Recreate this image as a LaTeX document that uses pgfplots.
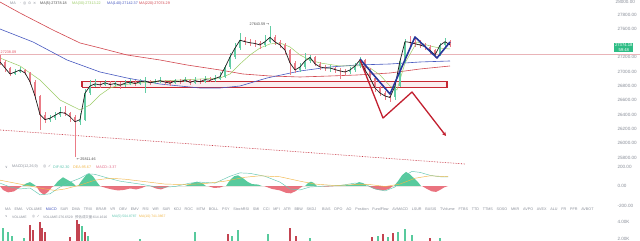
\documentclass[border=0pt]{standalone}
\usepackage{pgfplots}
\pgfplotsset{compat=1.18}
\usepackage{pgfplotstable}
\usepackage{fontspec}
\setmainfont{Liberation Sans}
\newfontfamily\cjk{Noto Sans CJK SC}
\newfontfamily\sym{DejaVu Sans}
\usetikzlibrary{arrows.meta}

\definecolor{upc}{HTML}{2EBD85}
\definecolor{dnc}{HTML}{E5505F}
\definecolor{ma5}{HTML}{1E1E1E}
\definecolor{ma30}{HTML}{9CCC65}
\definecolor{ma140}{HTML}{4759C0}
\definecolor{ma220}{HTML}{D2474F}
\definecolor{boxred}{HTML}{C62833}
\definecolor{navy}{HTML}{27379A}
\definecolor{arrowred}{HTML}{C21F2F}
\definecolor{lbl}{HTML}{8A8F99}
\definecolor{difc}{HTML}{63C7B2}
\definecolor{deac}{HTML}{F2B84B}
\definecolor{macdc}{HTML}{E36C8A}
\definecolor{refline}{HTML}{E9B4B8}

% hourly candles: x position, open, close, high, low
\pgfplotstableread{
x o c h l
0 27190 27136 27230 27100
5 27136 27052 27160 26990
10 27052 26968 27070 26940
15 26968 26996 27040 26950
20 26996 27024 27060 26980
25 27024 26982 27040 26950
30 26982 26860 26990 26820
35 26860 26660 26880 26600
40 26660 26400 26680 26190
45 26400 26330 26430 26280
50 26330 26350 26400 26300
55 26350 26390 26430 26320
60 26390 26430 26500 26370
65 26430 26420 26520 26380
70 26420 26370 26440 26300
75 26370 26300 26390 25811
80 26300 26330 26420 26250
85 26330 26700 26760 26310
90 26700 26800 26880 26680
95 26800 26830 26900 26790
100 26830 26815 26860 26770
105 26815 26845 26880 26800
110 26845 26820 26870 26790
115 26820 26835 26870 26800
120 26835 26810 26850 26760
125 26810 26840 26880 26790
130 26840 26855 26900 26820
135 26855 26835 26880 26800
140 26835 26860 26900 26820
145 26860 26870 26920 26700
150 26870 26845 26890 26810
155 26845 26860 26900 26830
160 26860 26875 26920 26840
165 26875 26855 26890 26820
170 26855 26840 26880 26800
175 26840 26870 26900 26830
180 26870 26860 26900 26830
185 26860 26885 26930 26850
190 26885 26850 26900 26810
195 26850 26875 26920 26830
200 26875 26860 26900 26830
205 26860 26890 26940 26840
210 26890 26880 26920 26850
215 26880 26905 26950 26860
220 26905 26930 26990 26880
225 26930 27060 27100 26910
230 27060 27206 27260 27040
235 27206 27330 27400 27180
240 27330 27440 27540 27300
245 27440 27420 27480 27380
250 27420 27405 27460 27360
255 27405 27395 27450 27340
260 27395 27374 27430 27320
265 27374 27420 27520 27350
270 27420 27480 27644 27400
275 27480 27416 27520 27380
280 27416 27374 27450 27330
285 27374 27300 27400 27250
290 27300 27122 27320 26950
295 27122 27024 27150 26980
300 27024 27066 27120 27000
305 27066 27150 27260 27040
310 27150 27200 27240 27120
315 27200 27110 27220 27080
320 27110 27066 27130 27030
325 27066 27052 27100 27010
330 27052 27052 27090 27000
335 27052 27030 27070 26980
340 27030 27010 27050 26900
345 27010 26996 27040 26950
350 26996 27024 27060 26970
355 27024 27080 27120 27000
360 27080 27164 27200 27050
365 27164 27024 27180 26990
370 27024 26912 27050 26880
375 26912 26772 26930 26720
380 26772 26702 26800 26660
385 26702 26660 26730 26600
390 26660 26640 26700 26580
395 26640 26800 26830 26600
400 26800 27150 27180 26780
405 27150 27420 27460 27120
410 27420 27410 27500 27360
415 27410 27390 27470 27340
420 27390 27374 27440 27330
425 27374 27350 27400 27300
430 27350 27300 27380 27250
435 27300 27235 27320 27190
440 27235 27370 27400 27220
445 27370 27420 27470 27350
450 27420 27374 27440 27340
}\candles

\newcommand\txt{\fontsize{3.7}{4}\selectfont}
\newcommand\stxt{\fontsize{3.4}{4}\selectfont}
\newcommand\g{\hspace{3.8pt}}

\pgfplotsset{
  panel/.style={
    scale only axis, width=612pt, xmin=0, xmax=612,
    axis line style={draw=none}, tick style={draw=none},
    xtick=\empty, yticklabel pos=right, clip=false,
    scaled y ticks=false,
    yticklabel style={font=\fontsize{4.6}{5}\selectfont, text=lbl, xshift=2pt,
      /pgf/number format/fixed, /pgf/number format/fixed zerofill,
      /pgf/number format/precision=2, /pgf/number format/1000 sep={},
      /pgf/number format/assume math mode=true},
  },
}

\begin{document}
\begin{tikzpicture}
\useasboundingbox (0pt,0pt) rectangle (640pt,-241pt);
\fill[white] (0pt,0pt) rectangle (640pt,-241pt);

% ---------------- price panel ----------------
\begin{axis}[panel, at={(0pt,0pt)}, anchor=north west, height=166pt,
  ymin=25681, ymax=28003,
  ytick={25800,26000,26200,26400,26600,26800,27000,27200,27600,27800}]

% consolidation box
\addplot[draw=boxred, line width=1.4pt, fill=boxred, fill opacity=0.08]
  coordinates {(82,26780) (447,26780) (447,26860) (82,26860) (82,26780)};

% reference level
\addplot[refline, line width=1.3pt] coordinates {(0,27238) (640,27238)};

% falling trend line
\addplot[arrowred, densely dotted, line width=0.6pt] coordinates {(0,26185) (465,25709)};

% moving averages
\addplot[ma220, line width=0.6pt] coordinates {
(0,27975) (20,27821) (53,27583) (80,27402) (100,27332) (127,27234) (160,27164)
(187,27094) (220,27024) (243,26968) (270,26940) (300,26926) (330,26940)
(357,26954) (390,26982) (420,27038) (450,27080)};
\addplot[ma140, line width=0.6pt] coordinates {
(0,27597) (33,27416) (67,27164) (100,26996) (127,26912) (160,26828) (200,26772)
(220,26772) (240,26800) (267,26912) (300,27010) (330,27066) (357,27094)
(390,27108) (420,27136) (450,27150)};
\addplot[ma30, line width=0.5pt] coordinates {
(0,27192) (20,27080) (40,26884) (60,26604) (80,26465) (90,26535) (100,26674)
(110,26772) (120,26814) (140,26842) (160,26870) (180,26884) (200,26898)
(220,26912) (230,26968) (240,27108) (250,27234) (260,27332) (270,27388)
(280,27402) (290,27346) (300,27234) (310,27164) (320,27122) (340,27080)
(360,27080) (370,27052) (380,26954) (390,26800) (397,26744) (405,27122)
(417,27416) (430,27360) (440,27330) (450,27318)};

% candles: wicks and bodies, rising then falling
\addplot[draw=none, mark=none, forget plot,
  restrict expr to domain={\thisrow{c}-\thisrow{o}}{0:100000},
  error bars/.cd, y dir=both, y explicit, error mark=none,
  error bar style={draw=upc!75, line width=0.35pt}]
  table[x=x, y expr={(\thisrow{h}+\thisrow{l})/2}, y error expr={(\thisrow{h}-\thisrow{l})/2}] {\candles};
\addplot[draw=none, mark=none, forget plot,
  restrict expr to domain={\thisrow{c}-\thisrow{o}}{0:100000},
  error bars/.cd, y dir=both, y explicit, error mark=none,
  error bar style={draw=upc!75, line width=1.5pt}]
  table[x=x, y expr={(\thisrow{o}+\thisrow{c})/2}, y error expr={abs(\thisrow{c}-\thisrow{o})/2}] {\candles};
\addplot[draw=none, mark=none, forget plot,
  restrict expr to domain={\thisrow{o}-\thisrow{c}}{0.5:100000},
  error bars/.cd, y dir=both, y explicit, error mark=none,
  error bar style={draw=dnc!75, line width=0.35pt}]
  table[x=x, y expr={(\thisrow{h}+\thisrow{l})/2}, y error expr={(\thisrow{h}-\thisrow{l})/2}] {\candles};
\addplot[draw=none, mark=none, forget plot,
  restrict expr to domain={\thisrow{o}-\thisrow{c}}{0.5:100000},
  error bars/.cd, y dir=both, y explicit, error mark=none,
  error bar style={draw=dnc!75, line width=1.5pt}]
  table[x=x, y expr={(\thisrow{o}+\thisrow{c})/2}, y error expr={abs(\thisrow{c}-\thisrow{o})/2}] {\candles};

% short moving average
\addplot[ma5, line width=0.7pt] table[x=x, y=c] {\candles};

% scenario sketches
\addplot[navy, line width=1.6pt, line join=round] coordinates {
(360,27178) (390,26688) (415,27486) (437,27192) (450,27416)};
\addplot[arrowred, line width=1.3pt, line join=round, -{Stealth[length=4pt, width=4pt]}] coordinates {
(360,27164) (383,26352) (412,26716) (446,26101)};

% annotations
\node[anchor=south west, inner sep=0.5pt, text=dnc, font=\txt] at (axis cs:0,27250) {27238.09};
\node[anchor=east, inner sep=0.5pt, text=ma5!80, font=\txt] at (axis cs:270,27660) {27643.59 {\sym →}};
\node[anchor=west, inner sep=0.5pt, text=ma5!80, font=\txt] at (axis cs:76,25770) {{\sym ←}\,25811.46};
\node[anchor=west, fill=upc, text=white, inner sep=0.8pt, align=center, font=\fontsize{4.2}{4.8}\selectfont]
  at (axis cs:614,27335) {27374.18\\59:48};
\node[anchor=north west, inner sep=0pt, xshift=3.5pt, text=lbl, font=\fontsize{4.6}{5}\selectfont]
  at (axis cs:612,28003) {28000.00};
\end{axis}

% ---------------- MACD panel ----------------
\begin{axis}[panel, at={(0pt,-160pt)}, anchor=north west, height=50pt,
  ymin=-246, ymax=267, ytick={-200,0,200}]
\addplot[fill=upc, fill opacity=0.8, draw=none] coordinates {
(22,0) (26,25) (30,40) (34,15) (36,0)
(54,0) (58,50) (63,90) (68,60) (73,30) (76,0)
(78,0) (82,60) (86,110) (89,130) (93,100) (97,40) (100,0)
(185,0) (192,30) (197,45) (202,30) (206,0)
(226,0) (230,60) (234,100) (238,110) (243,80) (248,40) (252,20) (258,15) (262,0)
(305,0) (308,30) (311,45) (314,30) (317,0)
(335,0) (340,6) (346,8) (350,10) (355,20) (359,40) (363,30) (367,0)
(394,0) (398,50) (402,110) (406,145) (410,120) (414,80) (418,40) (421,0)};
\addplot[fill=dnc, fill opacity=0.8, draw=none] coordinates {
(0,0) (3,-40) (8,-65) (14,-55) (19,-20) (22,0)
(36,0) (40,-60) (44,-90) (48,-60) (52,-10) (54,0)
(100,0) (106,-20) (112,-35) (118,-45) (124,-40) (130,-25) (136,-35) (142,-20) (146,0)
(150,0) (156,-25) (161,-35) (166,-15) (170,0)
(208,0) (214,-20) (220,-15) (224,0)
(264,0) (272,-30) (280,-45) (286,-70) (291,-75) (296,-50) (300,-20) (303,0)
(318,0) (325,-6) (332,-4) (335,0)
(368,0) (373,-25) (378,-40) (384,-45) (389,-30) (393,0)
(422,0) (427,-30) (432,-55) (436,-60) (440,-40) (444,-15) (448,0)};
\addplot[difc, line width=0.45pt] coordinates {
(0,30) (10,-10) (20,-30) (30,-20) (40,-90) (50,-80) (60,-10) (70,40) (80,80)
(88,125) (95,120) (105,90) (120,50) (140,20) (160,-15) (175,-5) (190,30)
(200,40) (215,30) (230,100) (240,135) (250,130) (265,100) (280,40) (290,-30)
(300,-40) (310,-10) (325,0) (340,5) (355,30) (365,20) (375,-30) (385,-50)
(395,-10) (405,110) (412,150) (420,140) (430,110) (440,95) (448,93)};
\addplot[deac, line width=0.45pt] coordinates {
(0,60) (15,30) (30,0) (45,-30) (55,-45) (65,-30) (80,10) (95,60) (110,80)
(125,70) (145,45) (165,20) (185,15) (205,25) (225,50) (245,90) (260,105)
(280,95) (300,50) (315,20) (335,5) (355,15) (370,15) (385,-5) (400,20)
(415,80) (430,105) (448,96)};
\end{axis}

% ---------------- volume panel ----------------
\begin{axis}[panel, at={(0pt,-219pt)}, anchor=north west, height=22pt,
  ymin=1765, ymax=4353, ytick={2000,4000}, yticklabels={2.00K,4.00K}]
\addplot[ycomb, upc!80, line width=1.1pt] coordinates {
(3,3290) (8,2820) (12,2300) (24,2100) (82,3530) (88,2350) (140,2000)
(195,2820) (232,2400) (238,3060) (268,2600) (310,2100) (378,2350)
(388,2230) (398,2820) (405,3180) (412,2500) (440,2100)};
\addplot[ycomb, dnc!85!black, line width=1.1pt] coordinates {
(30,3650) (33,3060) (40,4000) (42,3290) (45,2820) (70,2200) (77,4230)
(79,3760) (85,2820) (228,2600) (290,3290) (296,2300) (372,2230)
(383,2600) (393,2700) (430,2100)};
\end{axis}

% ---------------- headers ----------------
\begin{scope}[every node/.style={anchor=west, inner sep=0pt, font=\txt}]
\node[text=lbl] at (10pt,-3.5pt) {MA};
\node[text=lbl] at (20pt,-3.5pt) {{\sym ·\, ◎\, ⊙\, ×}};
\node[text=ma5!80] at (40pt,-3.5pt) {MA(5):27378.18};
\node[text=ma30] at (72pt,-3.5pt) {MA(30):27313.22};
\node[text=ma140] at (107pt,-3.5pt) {MA(140):27142.37};
\node[text=ma220] at (139pt,-3.5pt) {MA(220):27074.29};

\node[text=lbl] at (5pt,-167pt) {{\sym ∨}};
\node[text=lbl] at (12pt,-167pt) {MACD(12,26,9)};
\node[text=lbl] at (43pt,-167pt) {{\sym ◎\, ✓}};
\node[text=difc] at (53pt,-167pt) {DIF:92.30};
\node[text=deac] at (73pt,-167pt) {DEA:95.67};
\node[text=macdc] at (96pt,-167pt) {MACD:-3.37};

\node[text=lbl] at (5pt,-209pt) {MA\g EMA\g VOLUME\g \textcolor{ma140}{MACD}\g SAR\g DMA\g TRIX\g BRAR\g VR\g OBV\g EMV\g RSI\g WR\g SAR\g KDJ\g ROC\g MTM\g BOLL\g PSY\g StochRSI\g SMI\g CCI\g MFI\g ATR\g BBW\g SKDJ};
\node[text=lbl] at (322pt,-209pt) {BIAS\g DPO\g AO\g Position\g FundFlow\g AVMACD\g LSUR\g BASIS\g TVolume\g FTBS\g TTD\g TTMS\g SOSO\g MKR\g AVPO\g AVEX\g ALU\g FR\g PFR\g AVBOT};

\node[text=lbl, font=\stxt] at (5pt,-217pt) {{\sym ∨}};
\node[text=lbl, font=\stxt] at (12pt,-217pt) {VOLUME};
\node[text=lbl, font=\stxt] at (32pt,-217pt) {{\sym ◎\, ✓}};
\node[text=lbl, font=\stxt] at (43pt,-217pt) {VOLUME:276.6529};
\node[text=lbl, font=\stxt] at (75pt,-217pt) {{\cjk 预估成交量}:614.1616};
\node[text=difc, font=\stxt] at (112pt,-217pt) {MA(5):504.8787};
\node[text=deac, font=\stxt] at (139pt,-217pt) {MA(10):741.3867};
\end{scope}
\end{tikzpicture}
\end{document}
